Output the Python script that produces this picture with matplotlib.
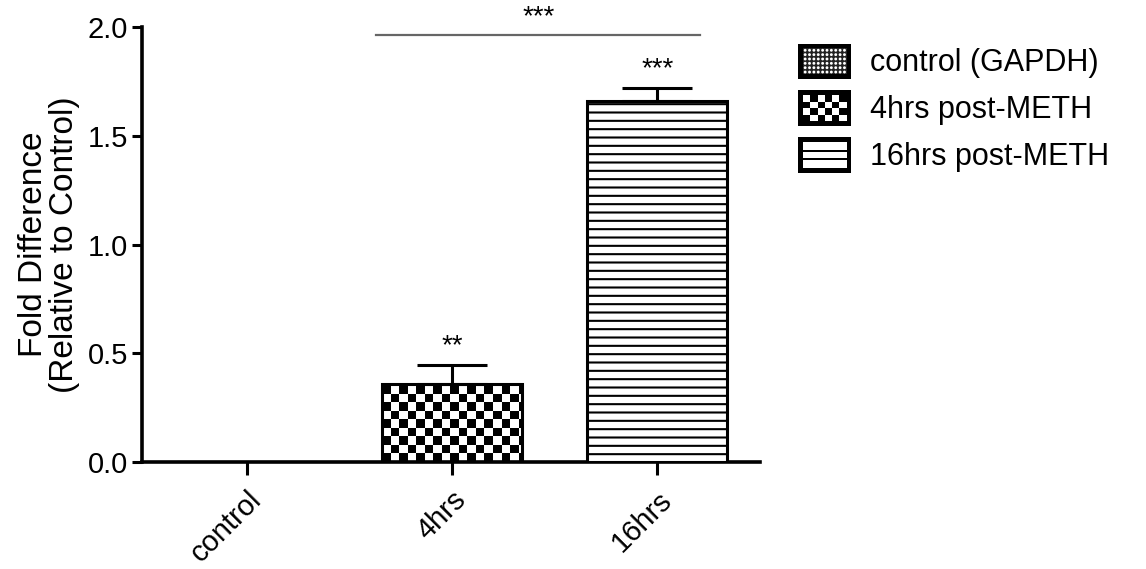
import numpy as np
import matplotlib
matplotlib.use("Agg")
import matplotlib.pyplot as plt
from matplotlib.patches import Rectangle, Circle, Patch
from matplotlib.legend_handler import HandlerBase

# ── DATA ──────────────────────────────────────────────────
categories = ["control", "4hrs", "16hrs"]
means      = [0.0, 0.36, 1.66]
errs       = [0.0, 0.085, 0.058]
stars      = ["", "**", "***"]
legend_labels = ["control (GAPDH)", "4hrs post-METH", "16hrs post-METH"]
bracket    = (1, 2)          # groups joined by the top line
bracket_txt = "***"

plt.rcParams["font.family"] = ["Liberation Sans", "DejaVu Sans"]
plt.rcParams["hatch.linewidth"] = 1.5


# ── LEGEND SWATCHES ───────────────────────────────────────
class SwatchHandler(HandlerBase):
    def __init__(self, kind):
        super().__init__()
        self.kind = kind

    def create_artists(self, legend, orig_handle, xd, yd, w, h, fontsize, trans):
        x0, y0 = -xd, -yd
        arts = [Rectangle((x0, y0), w, h, fc="black", lw=0, transform=trans)]
        p = 0.13 * h
        ix, iy, iw, ih = x0 + p, y0 + p, w - 2 * p, h - 2 * p
        if self.kind == "dots":
            arts.append(Rectangle((ix, iy), iw, ih, fc="#222222", lw=0, transform=trans))
            nx, ny = 10, 6
            for i in range(nx):
                for j in range(ny):
                    cx = ix + (i + 0.5) * iw / nx
                    cy = iy + (j + 0.5) * ih / ny
                    arts.append(Circle((cx, cy), 0.33 * iw / nx, fc="white", lw=0, transform=trans))
        elif self.kind == "checker":
            arts.append(Rectangle((ix, iy), iw, ih, fc="white", lw=0, transform=trans))
            nx, ny = 6, 4
            for i in range(nx):
                for j in range(ny):
                    if (i + j) % 2 == 0:
                        arts.append(Rectangle((ix + i * iw / nx, iy + j * ih / ny), iw / nx, ih / ny,
                                              fc="black", lw=0, transform=trans))
        else:
            arts.append(Rectangle((ix, iy), iw, ih, fc="white", lw=0, transform=trans))
            for k in range(1, 3):
                yy = iy + k * ih / 3
                arts.append(Rectangle((ix, yy - 0.8), iw, 1.6, fc="black", lw=0, transform=trans))
        return arts


# ── PLOT ──────────────────────────────────────────────────
fig = plt.figure(figsize=(11.46, 5.69), dpi=100)
ax = fig.add_axes([0.124, 0.188, 0.539, 0.7645])

x = np.arange(len(categories))
bw = 0.68
lw = 2.2
bars = ax.bar(x, means, width=bw, color="white", edgecolor="black", linewidth=lw, zorder=3)
bars[0].set_hatch("oooo")
bars[1].set_facecolor("none")
bars[2].set_hatch("--")

# checkerboard fill for 4hrs bar (texture clipped to the bar)
cell_x, cell_y = 0.0415, 0.039
bx0 = x[1] - bw / 2
nx = int(np.ceil(bw / cell_x))
ny = int(np.ceil(means[1] / cell_y)) + 1
ii, jj = np.indices((ny, nx))
tex = ((ii + jj) % 2).astype(float)
im = ax.imshow(tex, cmap="gray", extent=[bx0, bx0 + nx * cell_x, 0, ny * cell_y],
               origin="lower", aspect="auto", interpolation="nearest", zorder=2)
im.set_clip_path(bars[1])

# upward-only error bars
for xi, m, e in zip(x, means, errs):
    if e > 0:
        ax.errorbar(xi, m, yerr=[[0], [e]], fmt="none", ecolor="black",
                    elinewidth=lw, capsize=25, capthick=lw, zorder=4)

for xi, m, e, s in zip(x, means, errs, stars):
    if s:
        ax.text(xi, m + e + 0.03, s, ha="center", va="bottom", fontsize=20)

# top significance line
ax.plot([bracket[0] - 0.37, bracket[1] + 0.21], [1.963, 1.963], color="#666666",
        lw=1.6, clip_on=False)
ax.text((bracket[0] + bracket[1]) / 2 - 0.08, 1.985, bracket_txt, ha="center",
        va="bottom", fontsize=20)

ax.set_xlim(-0.51, 2.5)
ax.set_ylim(0, 2.0)
ax.set_yticks([0.0, 0.5, 1.0, 1.5, 2.0])
ax.set_yticklabels(["0.0", "0.5", "1.0", "1.5", "2.0"])
ax.set_xticks(x)
ax.set_xticklabels(categories, rotation=45, ha="right", rotation_mode="anchor")
ax.tick_params(axis="both", labelsize=21, width=2.2, length=7, direction="out", pad=3)
ax.tick_params(axis="x", length=9, pad=8)
for side in ["top", "right"]:
    ax.spines[side].set_visible(False)
for side in ["left", "bottom"]:
    ax.spines[side].set_linewidth(2.6)
ax.set_ylabel("Fold Difference\n(Relative to Control)", fontsize=24, labelpad=6,
              linespacing=1.0)

handles = [Patch(label=l) for l in legend_labels]
kinds = ["dots", "checker", "lines"]
ax.legend(handles=handles, handler_map={h: SwatchHandler(k) for h, k in zip(handles, kinds)},
          loc="upper left", bbox_to_anchor=(0.686, 0.945), bbox_transform=fig.transFigure,
          frameon=False, fontsize=22, handlelength=1.73, handleheight=1.4,
          labelspacing=0.38, handletextpad=0.6, borderaxespad=0)

fig.savefig("out.png", dpi=100)
